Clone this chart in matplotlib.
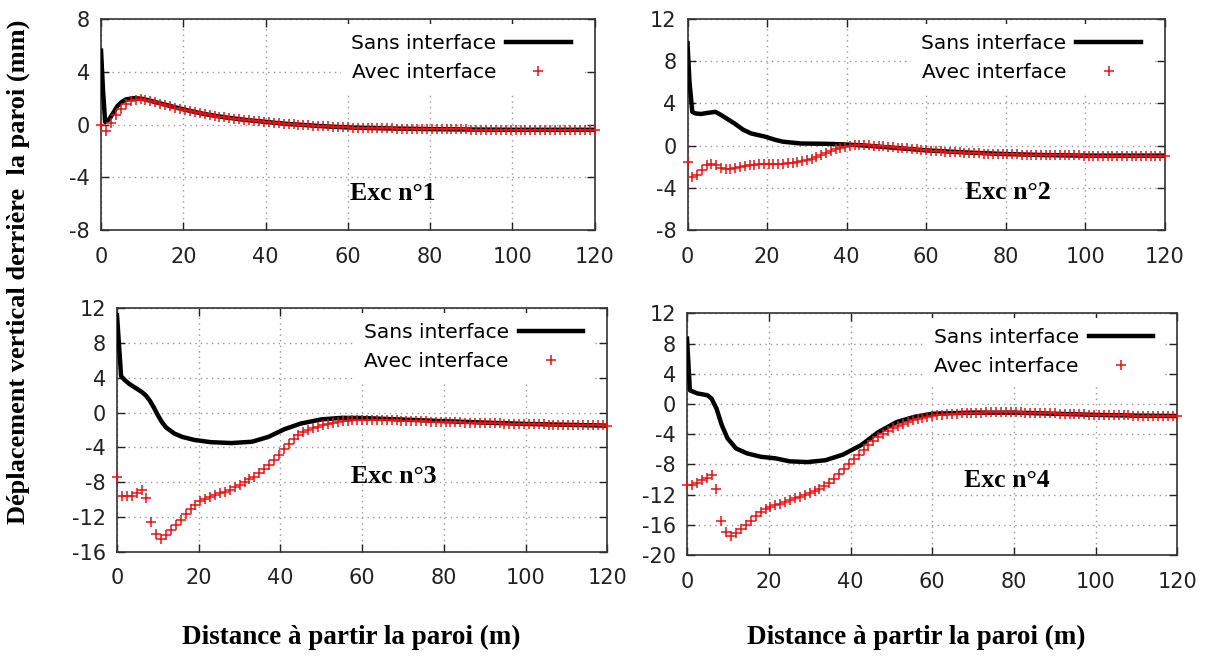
import numpy as np
import matplotlib.pyplot as plt
from matplotlib.transforms import offset_copy

plt.rcParams['axes.unicode_minus'] = False
plt.rcParams['font.family'] = ['DejaVu Sans']

# "Avec interface" points: one every 1.2 m, from 0 to 120 m
x_pts = np.arange(101) * 1.2

# ---- Exc n°1
x_sans1 = [0, 0.5, 1, 2, 3, 4, 5, 6, 8, 10, 12, 15, 20, 25, 30, 35, 40, 45, 50, 55,
           60, 70, 80, 90, 100, 110, 120]
y_sans1 = [5.6, 2.5, 0.2, 0.4, 0.9, 1.4, 1.7, 1.9, 2.0, 1.95, 1.8, 1.55, 1.15, 0.8, 0.55,
           0.35, 0.2, 0.05, -0.05, -0.15, -0.22, -0.3, -0.35, -0.38, -0.4, -0.4, -0.4]
y_avec1 = [0.0, -0.5, 0.1, 0.7, 1.2, 1.55, 1.75, 1.85, 1.9, 1.85,
           1.78, 1.68, 1.58, 1.48, 1.38, 1.28, 1.18, 1.08, 1.0, 0.92,
           0.85, 0.78, 0.71, 0.65, 0.59, 0.54, 0.49, 0.44, 0.4, 0.36,
           0.32, 0.28, 0.24, 0.2, 0.16, 0.13, 0.1, 0.07, 0.04, 0.01,
           -0.02, -0.05, -0.07, -0.09, -0.11, -0.13, -0.15, -0.17, -0.19, -0.2,
           -0.22, -0.23, -0.24, -0.25, -0.26, -0.27, -0.28, -0.29, -0.3, -0.3,
           -0.31, -0.32, -0.32, -0.33, -0.33, -0.34, -0.34, -0.35, -0.35, -0.36,
           -0.36, -0.36, -0.37, -0.37, -0.37, -0.38, -0.38, -0.38, -0.38, -0.39,
           -0.39, -0.39, -0.39, -0.4, -0.4, -0.4, -0.4, -0.4, -0.4, -0.4,
           -0.4, -0.4, -0.4, -0.4, -0.4, -0.4, -0.4, -0.4, -0.4, -0.4,
           -0.4]

# ---- Exc n°2
x_sans2 = [0, 0.5, 1.2, 2, 3.4, 5, 7, 8, 9.7, 12, 14, 16, 19.5, 22, 24, 28.5, 35, 39,
           45, 50, 55, 60, 70, 80, 90, 100, 110, 120]
y_sans2 = [9.7, 6.0, 3.2, 3.05, 3.0, 3.1, 3.2, 3.0, 2.6, 2.05, 1.5, 1.15, 0.85, 0.55,
           0.37, 0.2, 0.17, 0.12, 0.0, -0.15, -0.3, -0.45, -0.65, -0.8, -0.9, -0.95,
           -0.95, -0.95]
y_avec2 = [-1.6, -2.95, -2.8, -2.3, -1.8, -1.7, -1.8, -2.1, -2.2, -2.2,
           -2.1, -2.0, -1.9, -1.85, -1.8, -1.75, -1.72, -1.7, -1.7, -1.7,
           -1.7, -1.68, -1.65, -1.6, -1.5, -1.38, -1.25, -1.1, -0.9, -0.7,
           -0.5, -0.35, -0.2, -0.1, -0.02, 0.03, 0.05, 0.05, 0.03, 0.0,
           -0.03, -0.07, -0.11, -0.15, -0.19, -0.23, -0.27, -0.31, -0.35, -0.39,
           -0.43, -0.47, -0.5, -0.53, -0.56, -0.59, -0.62, -0.65, -0.67, -0.69,
           -0.71, -0.73, -0.75, -0.77, -0.78, -0.8, -0.81, -0.82, -0.83, -0.84,
           -0.85, -0.86, -0.87, -0.88, -0.89, -0.9, -0.9, -0.91, -0.92, -0.92,
           -0.93, -0.93, -0.93, -0.94, -0.94, -0.94, -0.94, -0.95, -0.95, -0.95,
           -0.95, -0.95, -0.95, -0.95, -0.95, -0.95, -0.95, -0.95, -0.95, -0.95,
           -0.95]

# ---- Exc n°3
x_sans3 = [0, 1, 2, 3, 4, 5, 6, 7, 8, 9, 10, 11, 12, 14, 16, 19, 23, 28, 33, 37, 41,
           45, 50, 55, 60, 70, 80, 90, 100, 110, 120]
y_sans3 = [11.2, 4.2, 3.7, 3.3, 3.0, 2.7, 2.4, 2.0, 1.4, 0.6, -0.3, -1.1, -1.7, -2.4,
           -2.8, -3.15, -3.4, -3.5, -3.35, -2.8, -1.9, -1.25, -0.78, -0.6, -0.62, -0.8,
           -0.98, -1.15, -1.3, -1.4, -1.5]
y_avec3 = [-7.4, -9.55, -9.6, -9.55, -9.3, -8.9, -9.8, -12.6, -14.0, -14.5,
           -14.1, -13.5, -12.9, -12.3, -11.7, -11.1, -10.6, -10.2, -9.9, -9.65,
           -9.45, -9.27, -9.08, -8.89, -8.58, -8.31, -8.0, -7.66, -7.36, -6.97,
           -6.5, -6.0, -5.5, -4.9, -4.2, -3.6, -3.05, -2.55, -2.2, -1.95,
           -1.75, -1.6, -1.45, -1.32, -1.2, -1.1, -1.02, -0.95, -0.9, -0.86,
           -0.82, -0.82, -0.82, -0.83, -0.84, -0.86, -0.88, -0.9, -0.92, -0.94,
           -0.96, -0.98, -1.0, -1.02, -1.03, -1.05, -1.07, -1.08, -1.1, -1.11,
           -1.13, -1.14, -1.16, -1.17, -1.19, -1.2, -1.22, -1.23, -1.25, -1.26,
           -1.27, -1.29, -1.3, -1.31, -1.33, -1.34, -1.35, -1.36, -1.37, -1.38,
           -1.39, -1.4, -1.41, -1.42, -1.43, -1.44, -1.45, -1.46, -1.47, -1.48,
           -1.5]

# ---- Exc n°4
x_sans4 = [0, 0.7, 2.5, 5, 6, 7.2, 8.5, 9.9, 12, 14.7, 18.1, 21.6, 25.1, 29.5, 33.9,
           38.2, 42.6, 46.9, 51.3, 55.7, 60, 70, 80, 90, 100, 110, 120]
y_sans4 = [8.65, 1.8, 1.4, 1.15, 0.7, -0.6, -2.8, -4.55, -5.9, -6.55, -7.0, -7.2, -7.6,
           -7.7, -7.45, -6.7, -5.45, -3.7, -2.4, -1.7, -1.3, -1.15, -1.15, -1.3, -1.45,
           -1.55, -1.6]
y_avec4 = [-10.8, -10.7, -10.5, -10.1, -9.8, -9.4, -11.3, -15.5, -17.0, -17.5,
           -17.1, -16.6, -16.0, -15.5, -14.9, -14.35, -13.95, -13.6, -13.4, -13.2,
           -12.97, -12.7, -12.5, -12.3, -12.1, -11.8, -11.5, -11.2, -10.9, -10.45,
           -9.95, -9.3, -8.6, -8.0, -7.3, -6.7, -6.05, -5.45, -4.9, -4.4,
           -3.95, -3.55, -3.2, -2.9, -2.6, -2.35, -2.15, -1.95, -1.8, -1.68,
           -1.58, -1.5, -1.43, -1.37, -1.32, -1.28, -1.24, -1.21, -1.18, -1.16,
           -1.14, -1.13, -1.12, -1.11, -1.11, -1.11, -1.11, -1.12, -1.13, -1.14,
           -1.16, -1.18, -1.2, -1.22, -1.24, -1.26, -1.28, -1.3, -1.32, -1.34,
           -1.36, -1.38, -1.4, -1.42, -1.44, -1.46, -1.48, -1.5, -1.51, -1.52,
           -1.53, -1.54, -1.55, -1.56, -1.57, -1.58, -1.59, -1.6, -1.6, -1.6,
           -1.6]

titles = ['Exc n°1', 'Exc n°2', 'Exc n°3', 'Exc n°4']
sans = [(x_sans1, y_sans1), (x_sans2, y_sans2), (x_sans3, y_sans3), (x_sans4, y_sans4)]
avec = [y_avec1, y_avec2, y_avec3, y_avec4]
ylims = [(-8, 8), (-8, 12), (-16, 12), (-20, 12)]

fig = plt.figure(figsize=(12.1, 6.56), dpi=100)
rects = [(0.0835, 0.6494, 0.4079, 0.3216),
         (0.5682, 0.6494, 0.3946, 0.3216),
         (0.0967, 0.159, 0.4053, 0.371),
         (0.5678, 0.154, 0.4053, 0.3684)]
text_pos = [(0.592, 0.175), (0.67, 0.18), (0.565, 0.307), (0.653, 0.31)]

for i in range(4):
    ax = fig.add_axes(rects[i])
    ax.plot(sans[i][0], sans[i][1], color='black', lw=3.2, label='Sans interface', zorder=3)
    ax.plot(x_pts, avec[i], ls='none', marker='+', ms=7.5, mew=1.1, color='#f01010',
            label='Avec interface', clip_on=False, zorder=4)
    ax.set_xlim(0, 120)
    ax.set_ylim(*ylims[i])
    ax.set_xticks(range(0, 121, 20))
    ax.set_yticks(range(ylims[i][0], ylims[i][1] + 1, 4))
    ax.grid(True, color='#999999', ls=(0, (1, 3)), lw=1)
    ax.tick_params(direction='in', top=True, right=True, length=6, width=1,
                   labelsize=15, colors='#222222')
    ax.tick_params(axis='x', pad=12)
    ax.tick_params(axis='y', pad=8)
    for s in ax.spines.values():
        s.set_linewidth(1.2)
        s.set_color('#333333')
    anchor = offset_copy(ax.transAxes, fig=fig, x=-14, y=-5, units='dots')
    ax.legend(loc='upper right', bbox_to_anchor=(1, 1), bbox_transform=anchor,
              markerfirst=False, frameon=True, fancybox=False,
              edgecolor='none', facecolor='white', framealpha=1, fontsize=14.5,
              handlelength=3.2, handletextpad=0.5, labelspacing=0.5, borderaxespad=0,
              borderpad=0.5)
    ax.text(text_pos[i][0], text_pos[i][1], titles[i], transform=ax.transAxes,
            ha='center', va='center', family='Liberation Serif', weight='bold', fontsize=18.5)

fig.text(0.015, 0.585, 'Déplacement vertical derrière  la paroi (mm)', rotation=90,
         ha='center', va='center', family='Liberation Serif', weight='bold', fontsize=19)
fig.text(0.29, 0.029, 'Distance à partir la paroi (m)', ha='center', va='center',
         family='Liberation Serif', weight='bold', fontsize=19.5)
fig.text(0.757, 0.029, 'Distance à partir la paroi (m)', ha='center', va='center',
         family='Liberation Serif', weight='bold', fontsize=19.5)

fig.savefig('out.png', dpi=100)
